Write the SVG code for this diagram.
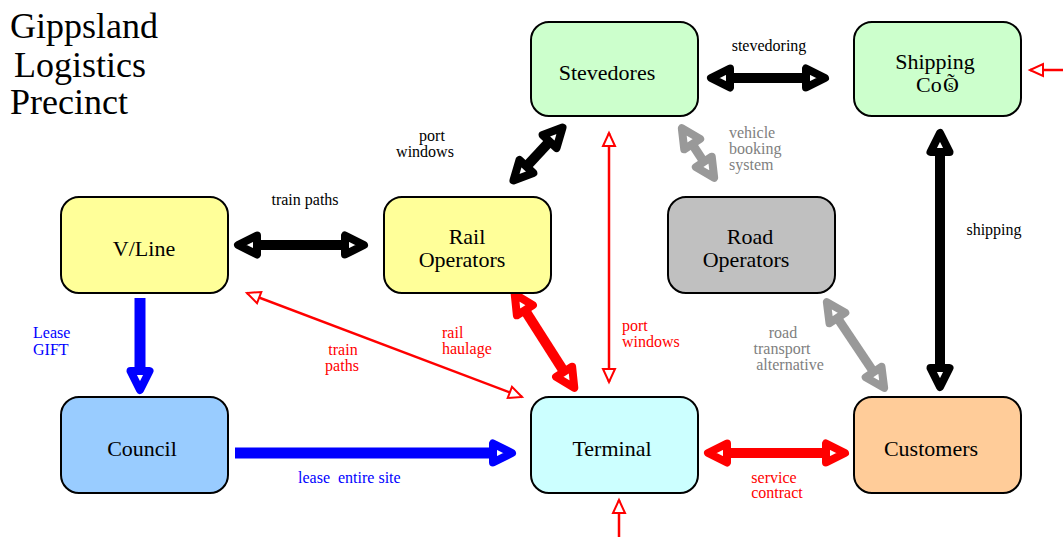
<svg xmlns="http://www.w3.org/2000/svg" width="1063" height="537" viewBox="0 0 1063 537">
<style>
.node rect{stroke:#000;stroke-width:2}
text{font-family:"Liberation Serif","Times New Roman",serif}
.nl{font-size:22px;fill:#000;text-anchor:middle}
.el{font-size:16px}
.k{fill:#000}.r{fill:#ff0000}.b{fill:#0000ff}.g{fill:#808080}
.mid{text-anchor:middle}
.thick{fill:none;stroke-linecap:butt}
.thin{fill:none;stroke:#ff0000;stroke-width:2.5}
</style>
<defs>
<marker id="hk" markerUnits="userSpaceOnUse" viewBox="-10 -16 40 32" markerWidth="40" markerHeight="32" refX="0" refY="0" orient="auto-start-reverse" overflow="visible"><path d="M19,0 L0,-9.5 L0,9.5 Z" fill="#fff" stroke="#000" stroke-width="8" stroke-linejoin="round"/></marker>
<marker id="hr" markerUnits="userSpaceOnUse" viewBox="-10 -16 40 32" markerWidth="40" markerHeight="32" refX="0" refY="0" orient="auto-start-reverse" overflow="visible"><path d="M19,0 L0,-9.5 L0,9.5 Z" fill="#fff" stroke="#ff0000" stroke-width="8" stroke-linejoin="round"/></marker>
<marker id="hb" markerUnits="userSpaceOnUse" viewBox="-10 -16 40 32" markerWidth="40" markerHeight="32" refX="0" refY="0" orient="auto-start-reverse" overflow="visible"><path d="M19,0 L0,-9.5 L0,9.5 Z" fill="#fff" stroke="#0000ff" stroke-width="8" stroke-linejoin="round"/></marker>
<marker id="hg" markerUnits="userSpaceOnUse" viewBox="-10 -16 40 32" markerWidth="40" markerHeight="32" refX="0" refY="0" orient="auto-start-reverse" overflow="visible"><path d="M19,0 L0,-9.5 L0,9.5 Z" fill="#fff" stroke="#999999" stroke-width="8" stroke-linejoin="round"/></marker>
<marker id="ho" markerUnits="userSpaceOnUse" viewBox="-16 -8 18 16" markerWidth="18" markerHeight="16" refX="0" refY="0" orient="auto-start-reverse" overflow="visible"><path d="M0,0 L-13,-6 L-13,6 Z" fill="#fff" stroke="#ff0000" stroke-width="2" stroke-linejoin="miter"/></marker>
</defs>

<g id="title">
<text x="10" y="38" font-size="36px">Gippsland</text>
<text x="14" y="77" font-size="36px">Logistics</text>
<text x="10" y="114" font-size="36px">Precinct</text>
</g>

<g id="connectors">
<line class="thick" x1="730" y1="78" x2="806" y2="78" stroke="#000" stroke-width="10" marker-start="url(#hk)" marker-end="url(#hk)"/>
<line class="thick" x1="257" y1="245" x2="345" y2="245" stroke="#000" stroke-width="10" marker-start="url(#hk)" marker-end="url(#hk)"/>
<line class="thick" x1="549.6" y1="141.5" x2="526.4" y2="166.5" stroke="#000" stroke-width="10" marker-start="url(#hk)" marker-end="url(#hk)"/>
<line class="thick" x1="692.2" y1="144.1" x2="703.8" y2="161.9" stroke="#999999" stroke-width="9" marker-start="url(#hg)" marker-end="url(#hg)"/>
<line class="thick" x1="940" y1="152" x2="940" y2="368" stroke="#000" stroke-width="10" marker-start="url(#hk)" marker-end="url(#hk)"/>
<line class="thick" x1="837.4" y1="317.9" x2="873.6" y2="372.1" stroke="#999999" stroke-width="9" marker-start="url(#hg)" marker-end="url(#hg)"/>
<line class="thick" x1="524.9" y1="310.2" x2="564.1" y2="371.8" stroke="#ff0000" stroke-width="10" marker-start="url(#hr)" marker-end="url(#hr)"/>
<line class="thick" x1="140" y1="298" x2="140" y2="371" stroke="#0000ff" stroke-width="11" marker-end="url(#hb)"/>
<line class="thick" x1="235" y1="453" x2="493" y2="453" stroke="#0000ff" stroke-width="11" marker-end="url(#hb)"/>
<line class="thick" x1="727" y1="453" x2="826" y2="453" stroke="#ff0000" stroke-width="10" marker-start="url(#hr)" marker-end="url(#hr)"/>
<line class="thin" x1="247" y1="293" x2="522" y2="397" marker-start="url(#ho)" marker-end="url(#ho)"/>
<line class="thin" x1="609" y1="133" x2="609" y2="382" marker-start="url(#ho)" marker-end="url(#ho)"/>
<line class="thin" x1="619" y1="537" x2="619" y2="500" marker-end="url(#ho)"/>
<line class="thin" x1="1063" y1="70" x2="1030" y2="70" marker-end="url(#ho)"/>

<text class="el k mid" x="769" y="51">stevedoring</text>
<text class="el k mid" x="305" y="205">train paths</text>
<text class="el k mid" x="432" y="141">port</text>
<text class="el k mid" x="425" y="157">windows</text>
<text class="el g" x="729" y="138">vehicle</text>
<text class="el g" x="729" y="154">booking</text>
<text class="el g" x="729" y="170">system</text>
<text class="el k mid" x="994" y="235">shipping</text>
<text class="el g mid" x="783" y="338">road</text>
<text class="el g mid" x="782" y="354">transport</text>
<text class="el g mid" x="790" y="370">alternative</text>
<text class="el r" x="442" y="338">rail</text>
<text class="el r" x="442" y="354">haulage</text>
<text class="el r mid" x="343" y="355">train</text>
<text class="el r mid" x="342" y="371">paths</text>
<text class="el r" x="622" y="331">port</text>
<text class="el r" x="622" y="347">windows</text>
<text class="el b" x="33" y="338">Lease</text>
<text class="el b" x="33" y="355">GIFT</text>
<text class="el b" x="298" y="483" xml:space="preserve">lease  entire site</text>
<text class="el r mid" x="774" y="483">service</text>
<text class="el r mid" x="777" y="498">contract</text>
</g>

<g id="stevedores" class="node"><rect x="531" y="22" width="167" height="94" rx="18" fill="#ccffcc"/><text class="nl" x="607" y="80">Stevedores</text></g>
<g id="shipping" class="node"><rect x="854" y="22" width="167" height="94" rx="18" fill="#ccffcc"/><text class="nl" x="935" y="69">Shipping</text><text x="916" y="92" font-size="22px">Co</text><text x="943" y="92" font-size="22px">Õ</text><text x="948" y="90" font-size="14px">s</text></g>
<g id="vline" class="node"><rect x="61" y="197" width="167" height="96" rx="18" fill="#ffff99"/><text class="nl" x="144" y="256">V/Line</text></g>
<g id="rail" class="node"><rect x="384" y="197" width="167" height="96" rx="18" fill="#ffff99"/><text class="nl" x="467" y="244">Rail</text><text class="nl" x="462" y="267">Operators</text></g>
<g id="road" class="node"><rect x="668" y="197" width="167" height="96" rx="18" fill="#c0c0c0"/><text class="nl" x="750" y="244">Road</text><text class="nl" x="746" y="267">Operators</text></g>
<g id="council" class="node"><rect x="61" y="397" width="167" height="96" rx="18" fill="#99ccff"/><text class="nl" x="142" y="456">Council</text></g>
<g id="terminal" class="node"><rect x="531" y="397" width="167" height="96" rx="18" fill="#ccffff"/><text class="nl" x="612" y="456">Terminal</text></g>
<g id="customers" class="node"><rect x="854" y="397" width="167" height="96" rx="18" fill="#ffcc99"/><text class="nl" x="931" y="456">Customers</text></g>
</svg>
